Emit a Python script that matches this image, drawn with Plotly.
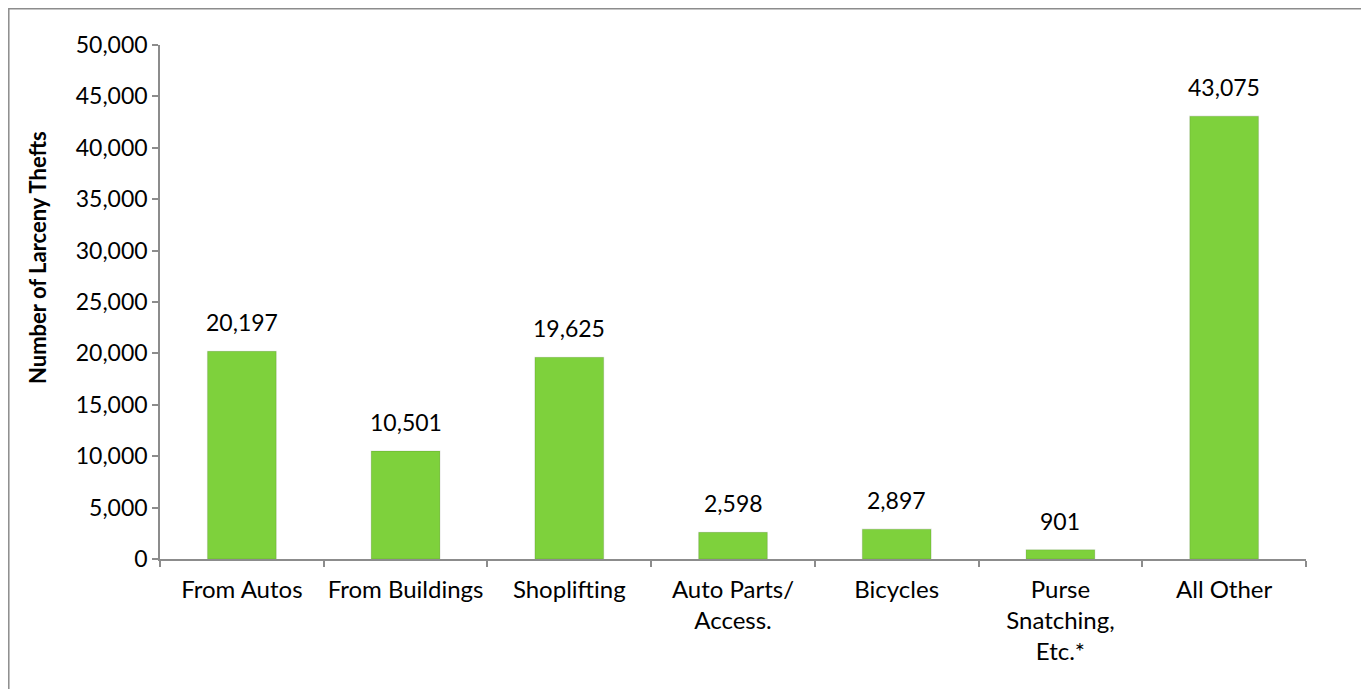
import plotly.graph_objects as go

# Larceny thefts by type
categories = ["From Autos", "From Buildings", "Shoplifting", "Auto Parts/<br>Access.",
              "Bicycles", "Purse<br>Snatching,<br>Etc.*", "All Other"]
thefts = [20197, 10501, 19625, 2598, 2897, 901, 43075]
y_ticks = [0, 5000, 10000, 15000, 20000, 25000, 30000, 35000, 40000, 45000, 50000]

W, H = 1369, 689
OFF = 8  # page body margin in the browser
L, T = 160 - OFF, 45 - OFF
R = W + OFF - 1306
B = H + OFF - 559
pw, ph = W - L - R, H - T - B

FONT = "Lato"
BAR = "#7ed13c"
AXIS = "#8c8c8c"


def px(x):  # page x -> paper x
    return (x - OFF - L) / pw


def py(y):  # page y -> paper y
    return (H - B - (y - OFF)) / ph


fig = go.Figure()
fig.add_trace(go.Bar(
    x=categories, y=thefts,
    marker=dict(color=BAR, line=dict(color="rgba(0,0,0,0.10)", width=1.2)),
    width=0.42,
    hoverinfo="x+y",
))

# value labels above bars
for c, v in zip(categories, thefts):
    fig.add_annotation(x=c, y=v, text=f"{v:,}", showarrow=False,
                       yanchor="bottom", yshift=13,
                       font=dict(family=FONT, size=23, color="#000"))

# y axis title (placed like the original, above centre)
fig.add_annotation(x=px(38), y=py(258), xref="paper", yref="paper",
                   xanchor="center", yanchor="middle",
                   text="<b>Number of Larceny Thefts</b>", textangle=-90, showarrow=False,
                   font=dict(family=FONT, size=22, color="#000"))

# chart border
fig.add_shape(type="rect", xref="paper", yref="paper",
              x0=px(8.8), x1=px(1364),
              y0=py(720), y1=py(8.8),
              line=dict(color="#8c8c8c", width=1.5), fillcolor="rgba(0,0,0,0)", layer="below")

fig.update_layout(
    width=W, height=H,
    margin=dict(l=L, r=R, t=T, b=B, pad=0, autoexpand=False),
    paper_bgcolor="white", plot_bgcolor="white",
    showlegend=False,
    xaxis=dict(
        showline=True, linecolor=AXIS, linewidth=1.5,
        ticks="outside", ticklen=6, tickcolor=AXIS, tickwidth=1.5,
        tickson="boundaries", tickangle=0, ticklabelstandoff=8,
        tickfont=dict(family=FONT, size=24, color="#000"),
        showgrid=False, range=[-0.5, 6.5],
    ),
    yaxis=dict(
        range=[0, 50000], tickvals=y_ticks, tickformat=",",
        showline=True, linecolor=AXIS, linewidth=1.5,
        ticks="outside", ticklen=6, tickcolor=AXIS, tickwidth=1.5,
        tickfont=dict(family=FONT, size=23, color="#000"),
        showgrid=False, zeroline=False,
    ),
)

fig.write_html("out.html")
